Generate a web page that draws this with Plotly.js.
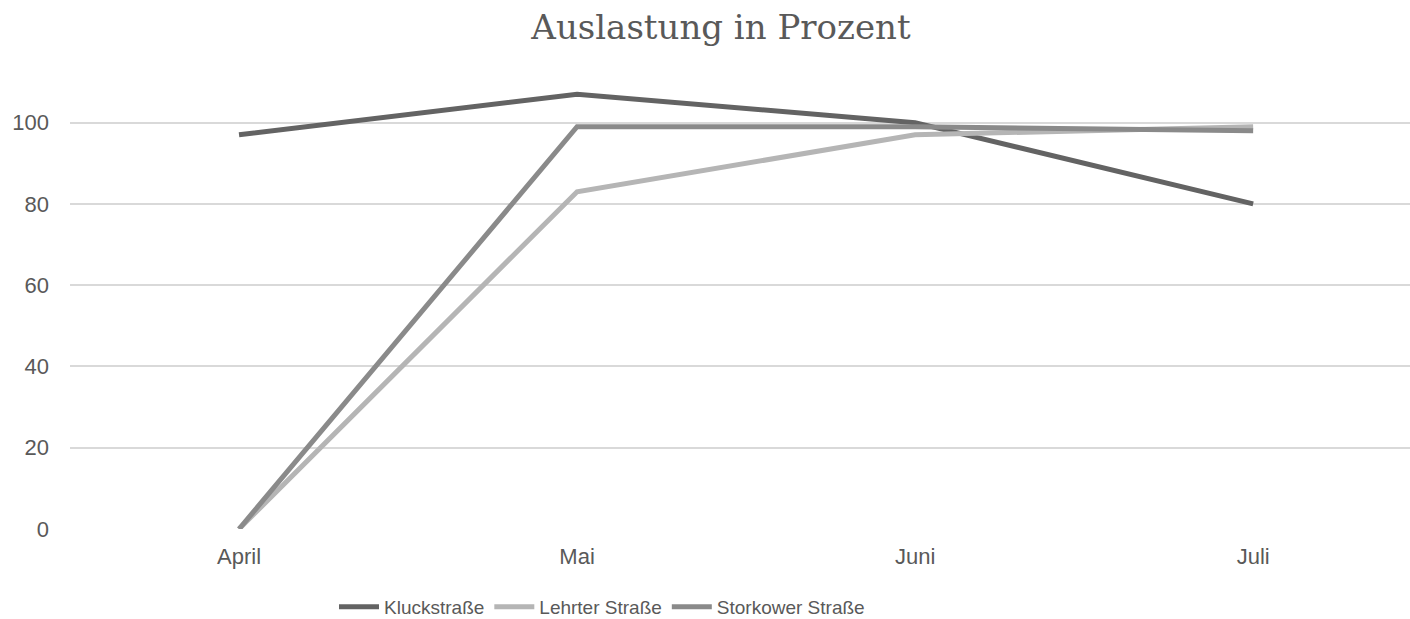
<!DOCTYPE html>
<html>
<head>
<meta charset="utf-8">
<script src="https://cdn.plot.ly/plotly-3.0.1.min.js"></script>
<style>html,body{margin:0;padding:0;overflow:hidden;background:#fff;}#chart{width:1410px;height:619px;}</style>
</head>
<body>
<div id="chart"></div>
<script>
const months = ["April", "Mai", "Juni", "Juli"];
const kluckstrasse = [97, 107, 100, 80];
const lehrterStrasse = [0, 83, 97, 99];
const storkowerStrasse = [0, 99, 99, 98];
const yTicks = [0, 20, 40, 60, 80, 100];

const mk = (name, y, color) => ({
  type: "scatter", mode: "lines", name: name, x: months, y: y,
  line: {color: color, width: 5}, hoverinfo: "skip"
});

const data = [
  mk("Kluckstraße", kluckstrasse, "#636363"),
  mk("Lehrter Straße", lehrterStrasse, "#b5b5b5"),
  mk("Storkower Straße", storkowerStrasse, "#8a8a8a")
];

const layout = {
  width: 1410, height: 619,
  margin: {l: 70, r: 0, t: 82, b: 90, autoexpand: false},
  paper_bgcolor: "#fff", plot_bgcolor: "#fff",
  title: {text: "Auslastung in Prozent", font: {family: "DejaVu Serif", size: 34, color: "#595959"},
          x: 721/1410, xanchor: "center", y: 1 - 27/619, yanchor: "middle", yref: "container", xref: "container"},
  xaxis: {type: "category", range: [-0.5, 3.464], showgrid: false, zeroline: false, showline: false,
          ticks: "", tickfont: {family: "Liberation Sans", size: 22, color: "#595959"}, ticklabelstandoff: 12},
  yaxis: {range: [0, 110], tickvals: yTicks, ticktext: yTicks.map(String), showgrid: true, gridcolor: "#d9d9d9", gridwidth: 2,
          zeroline: false, showline: false, ticks: "",
          tickfont: {family: "Liberation Sans", size: 22, color: "#595959"}, ticklabelstandoff: 20},
  legend: {orientation: "h", x: 602/1410, xanchor: "center", xref: "container", y: 1 - 607/619, yanchor: "middle", yref: "container",
           font: {family: "Liberation Sans", size: 19, color: "#595959"}, itemwidth: 40},
  showlegend: true
};

Plotly.newPlot("chart", data, layout, {displayModeBar: false, staticPlot: true});
</script>
</body>
</html>
